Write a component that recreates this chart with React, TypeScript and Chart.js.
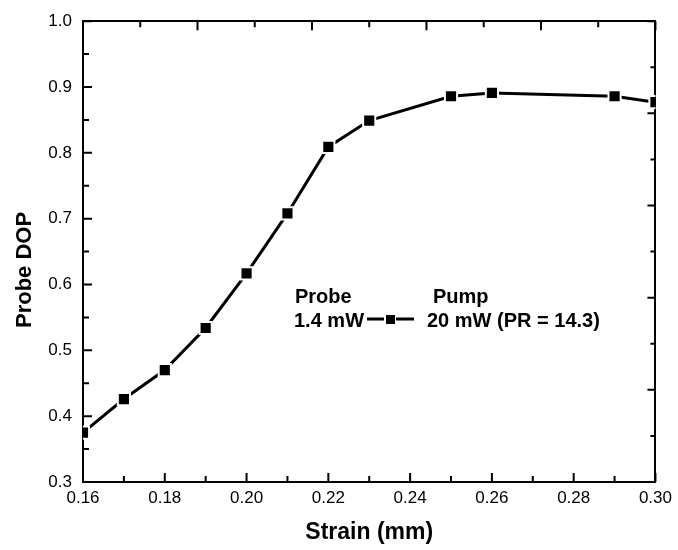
import React, { useEffect, useRef } from "react";
import { Chart, registerables } from "chart.js";

Chart.register(...registerables);

const strain = [0.16, 0.17, 0.18, 0.19, 0.2, 0.21, 0.22, 0.23, 0.25, 0.26, 0.29, 0.3];
const dop = [0.375, 0.426, 0.47, 0.534, 0.617, 0.708, 0.809, 0.849, 0.886, 0.891, 0.886, 0.877];

const xMajorTicks = [0.16, 0.18, 0.2, 0.22, 0.24, 0.26, 0.28, 0.3];
const xMinorTicks = [0.17, 0.19, 0.21, 0.23, 0.25, 0.27, 0.29];
const yMajorTicks = [0.3, 0.4, 0.5, 0.6, 0.7, 0.8, 0.9, 1.0];
const yMinorTicks = [0.35, 0.45, 0.55, 0.65, 0.75, 0.85, 0.95];
const sideTicks = [0, 1, 2, 3, 4, 5, 6, 7, 8, 9, 10];

const legendHeader = ["Probe", "Pump"];
const legendRow = ["1.4 mW", "20 mW (PR = 14.3)"];

const FONT = "'Liberation Sans', Arial, sans-serif";

const framePlugin = {
  id: "frameTicks",
  afterDatasetsDraw(chart: any) {
    const { ctx, chartArea, scales } = chart;
    const { left, right, top, bottom } = chartArea;
    ctx.save();
    ctx.strokeStyle = "#000";
    ctx.lineWidth = 2;
    ctx.beginPath();
    const major = 9;
    const minor = 6;
    xMajorTicks.forEach((v) => {
      const px = scales.x.getPixelForValue(v);
      ctx.moveTo(px, bottom);
      ctx.lineTo(px, bottom - major);
    });
    xMinorTicks.forEach((v) => {
      const px = scales.x.getPixelForValue(v);
      ctx.moveTo(px, bottom);
      ctx.lineTo(px, bottom - minor);
    });
    yMajorTicks.forEach((v) => {
      const py = scales.y.getPixelForValue(v);
      ctx.moveTo(left, py);
      ctx.lineTo(left + major, py);
    });
    yMinorTicks.forEach((v) => {
      const py = scales.y.getPixelForValue(v);
      ctx.moveTo(left, py);
      ctx.lineTo(left + minor, py);
    });
    sideTicks.forEach((v) => {
      const len = v % 2 === 0 ? major : minor;
      const px = scales.x2.getPixelForValue(v);
      ctx.moveTo(px, top);
      ctx.lineTo(px, top + len);
      const py = scales.y2.getPixelForValue(v);
      ctx.moveTo(right, py);
      ctx.lineTo(right - (v % 2 === 0 ? 8 : 5), py);
    });
    ctx.stroke();

    // annotation legend
    ctx.fillStyle = "#000";
    ctx.font = `bold 20px ${FONT}`;
    ctx.textBaseline = "alphabetic";
    ctx.textAlign = "left";
    ctx.fillText(legendHeader[0], 295, 303);
    ctx.fillText(legendHeader[1], 433, 303);
    ctx.fillText(legendRow[0], 294, 327);
    ctx.fillText(legendRow[1], 427, 327);
    ctx.lineWidth = 3;
    ctx.beginPath();
    ctx.moveTo(367, 319);
    ctx.lineTo(384, 319);
    ctx.moveTo(396, 319);
    ctx.lineTo(414, 319);
    ctx.stroke();
    ctx.fillRect(386, 315, 9, 9);
    ctx.restore();
  },
};

export default function App() {
  const ref = useRef<HTMLCanvasElement>(null);
  useEffect(() => {
    document.body.style.margin = "0";
    const canvas = ref.current!;
    const tickFont = { family: FONT, size: 17 };
    const chart = new Chart(canvas, {
      type: "line",
      data: {
        datasets: [
          {
            data: strain.map((x, i) => ({ x, y: dop[i] })),
            borderColor: "#000",
            borderWidth: 3,
            backgroundColor: "#000",
            pointStyle: "rect",
            pointRadius: 8.6,
            pointBorderColor: "#fff",
            pointBorderWidth: 2,
            pointBackgroundColor: "#000",
            tension: 0,
            clip: 0,
          } as any,
        ],
      },
      options: {
        animation: false,
        responsive: false,
        events: [],
        layout: { padding: 0 },
        plugins: { legend: { display: false }, tooltip: { enabled: false } },
        scales: {
          x: {
            type: "linear",
            position: "bottom",
            min: 0.16,
            max: 0.3,
            afterBuildTicks: (s: any) => {
              s.ticks = xMajorTicks.map((v) => ({ value: v }));
            },
            afterFit: (s: any) => {
              s.height = 68;
            },
            grid: { display: false, drawTicks: false },
            border: { display: true, color: "#000", width: 2 },
            ticks: {
              color: "#000",
              font: tickFont,
              padding: 6,
              maxRotation: 0,
              callback: (v: any) => Number(v).toFixed(2),
            },
            title: {
              display: true,
              text: "Strain (mm)",
              color: "#000",
              font: { family: FONT, size: 23, weight: "bold" },
              padding: { top: 0, bottom: 4 },
            },
          },
          x2: {
            type: "linear",
            position: "top",
            min: 0,
            max: 10,
            afterFit: (s: any) => {
              s.height = 13;
            },
            grid: { display: false, drawTicks: false },
            border: { display: true, color: "#000", width: 2 },
            ticks: { display: false },
          },
          y: {
            type: "linear",
            position: "left",
            min: 0.3,
            max: 1.0,
            afterBuildTicks: (s: any) => {
              s.ticks = yMajorTicks.map((v) => ({ value: v }));
            },
            afterFit: (s: any) => {
              s.width = 83;
            },
            grid: { display: false, drawTicks: false },
            border: { display: true, color: "#000", width: 2 },
            ticks: {
              color: "#000",
              font: tickFont,
              padding: 11,
              callback: (v: any) => Number(v).toFixed(1),
            },
            title: {
              display: true,
              text: "Probe DOP      ",
              color: "#000",
              font: { family: FONT, size: 22, weight: "bold" },
              padding: { top: 12, bottom: 0 },
            },
          },
          y2: {
            type: "linear",
            position: "right",
            min: 0,
            max: 10,
            afterFit: (s: any) => {
              s.width = 21;
            },
            grid: { display: false, drawTicks: false },
            border: { display: true, color: "#000", width: 2 },
            ticks: { display: false },
          },
        },
      },
      plugins: [framePlugin],
    });
    return () => chart.destroy();
  }, []);
  return (
    <div style={{ width: 678, height: 550 }}>
      <canvas ref={ref} width={678} height={550} style={{ display: "block" }} />
    </div>
  );
}
